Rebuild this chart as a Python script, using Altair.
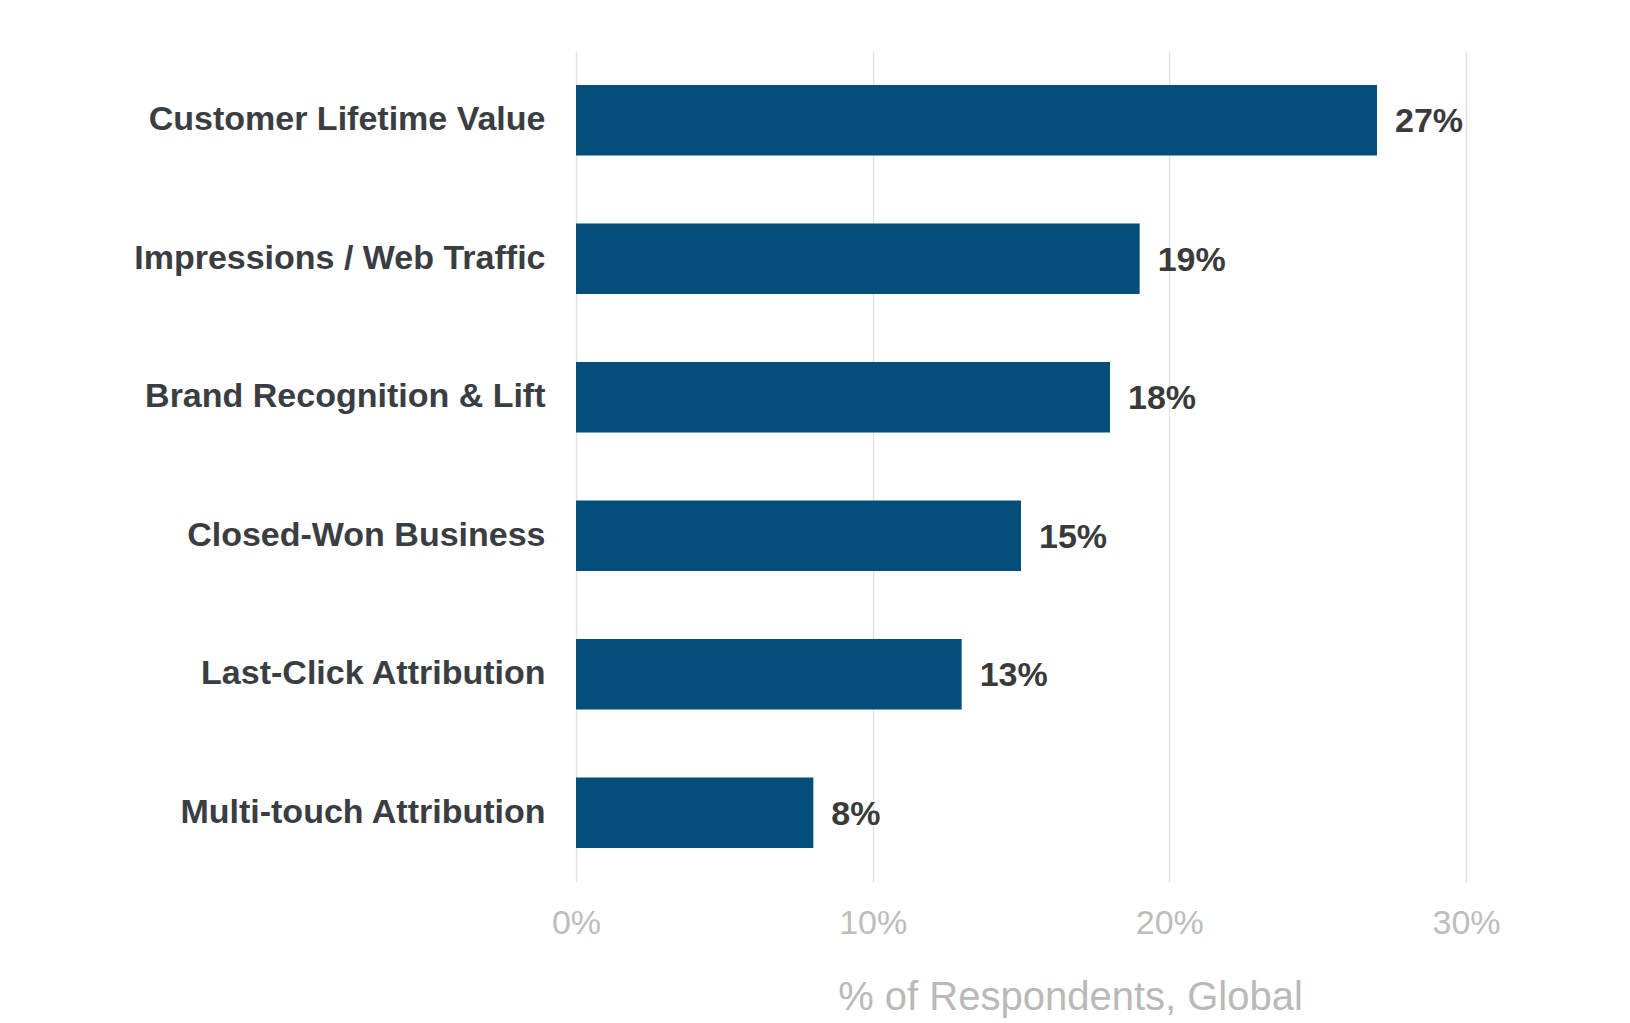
import altair as alt
import pandas as pd

categories = [
    "Customer Lifetime Value",
    "Impressions / Web Traffic",
    "Brand Recognition & Lift",
    "Closed-Won Business",
    "Last-Click Attribution",
    "Multi-touch Attribution",
]
values = [27, 19, 18, 15, 13, 8]
value_labels = ["27%", "19%", "18%", "15%", "13%", "8%"]

df = pd.DataFrame({"category": categories, "value": values, "label": value_labels})

FONT = "Liberation Sans"

x = alt.X(
    "value:Q",
    scale=alt.Scale(domain=[0, 30], nice=False),
    axis=alt.Axis(
        values=[0, 10, 20, 30],
        labelExpr="datum.value + '%'",
        labelFlush=False,
        labelAlign="center",
        title="% of Respondents, Global",
        titleX=494,
        titleAnchor="middle",
        titleFont=FONT,
        titleFontSize=40,
        titleFontWeight="normal",
        titleColor="#b9b9b9",
        titlePadding=37,
        labelFont=FONT,
        labelFontSize=34,
        labelColor="#bdbdbd",
        labelPadding=24,
        ticks=False,
        domain=False,
        grid=True,
        gridColor="#e3e3e3",
        gridWidth=1.5,
    ),
)
y = alt.Y(
    "category:N",
    sort=None,
    scale=alt.Scale(paddingInner=0.49, paddingOuter=0.245),
    axis=alt.Axis(
        title=None,
        labelFont=FONT,
        labelFontSize=34,
        labelFontWeight="bold",
        labelColor="#3a3d42",
        labelPadding=31,
        labelLimit=600,
        ticks=False,
        domain=False,
        grid=False,
    ),
)

bars = alt.Chart(df).mark_bar(color="#044f7a").encode(x=x, y=y)
text = alt.Chart(df).mark_text(
    align="left", baseline="middle", dx=18, dy=2, font=FONT, fontSize=34,
    fontWeight="bold", color="#3a3a3a"
).encode(x="value:Q", y=alt.Y("category:N", sort=None), text="label:N")

chart = (
    (bars + text)
    .properties(
        width=890,
        height=831,
        autosize=alt.AutoSizeParams(type="none"),
        padding={"left": 568, "top": 43, "right": 156, "bottom": 140},
        background="white",
    )
    .configure_view(stroke=None)
)

chart.save("out.html", embed_options={"renderer": "svg", "actions": False})
